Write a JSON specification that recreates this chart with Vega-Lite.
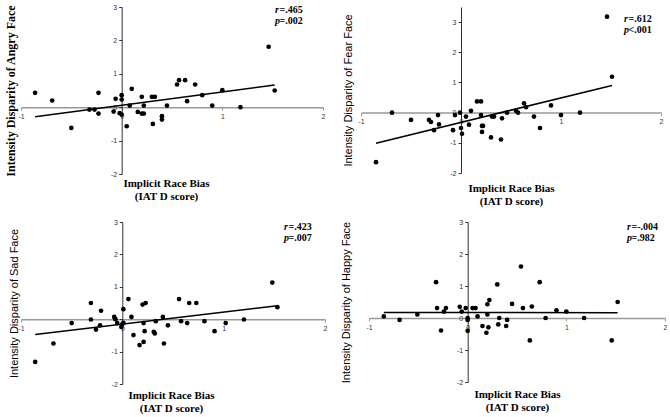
{
  "$schema": "https://vega.github.io/schema/vega-lite/v6.json",
  "background": "white",
  "padding": {"left": 4, "top": 3, "right": 0, "bottom": 0},
  "spacing": 11,
  "config": {
    "view": {"stroke": null},
    "axis": {"grid": false, "labelFont": "Liberation Sans", "labelFontSize": 7, "labelColor": "#333", "labelOverlap": false, "labelFlush": false, "tickSize": 3, "labelPadding": 2},
    "text": {"font": "Liberation Serif", "fontSize": 10, "fontWeight": "bold", "color": "black", "align": "left", "baseline": "top", "lineHeight": 11}
  },
  "datasets": {
    "angry": [
      {"x": -0.86, "y": 0.43}, {"x": -0.69, "y": 0.2}, {"x": -0.5, "y": -0.62}, {"x": -0.32, "y": -0.07}, {"x": -0.27, "y": -0.07},
      {"x": -0.23, "y": 0.43}, {"x": -0.23, "y": -0.19}, {"x": -0.08, "y": -0.13}, {"x": -0.06, "y": 0.25}, {"x": -0.02, "y": -0.18},
      {"x": 0.0, "y": 0.36}, {"x": 0.0, "y": 0.23}, {"x": 0.0, "y": -0.22}, {"x": 0.05, "y": -0.57}, {"x": 0.08, "y": 0.05},
      {"x": 0.1, "y": 0.55}, {"x": 0.16, "y": -0.14}, {"x": 0.2, "y": 0.31}, {"x": 0.2, "y": -0.19}, {"x": 0.22, "y": -0.19},
      {"x": 0.22, "y": 0.05}, {"x": 0.3, "y": 0.31}, {"x": 0.33, "y": 0.31}, {"x": 0.31, "y": -0.5}, {"x": 0.4, "y": -0.27},
      {"x": 0.4, "y": -0.37}, {"x": 0.45, "y": 0.05}, {"x": 0.55, "y": 0.68}, {"x": 0.57, "y": 0.81}, {"x": 0.63, "y": 0.81},
      {"x": 0.65, "y": 0.18}, {"x": 0.73, "y": 0.68}, {"x": 0.8, "y": 0.36}, {"x": 0.9, "y": 0.05}, {"x": 1.0, "y": 0.51},
      {"x": 1.18, "y": 0.0}, {"x": 1.46, "y": 1.81}, {"x": 1.52, "y": 0.5}
    ],
    "fear": [
      {"x": -0.85, "y": -1.64}, {"x": -0.69, "y": 0.0}, {"x": -0.5, "y": -0.24}, {"x": -0.32, "y": -0.24}, {"x": -0.3, "y": -0.31},
      {"x": -0.27, "y": -0.58}, {"x": -0.23, "y": -0.08}, {"x": -0.22, "y": -0.39}, {"x": -0.08, "y": -0.58}, {"x": -0.06, "y": -0.08},
      {"x": -0.01, "y": 0.0}, {"x": 0.0, "y": -0.51}, {"x": 0.01, "y": -0.7}, {"x": 0.05, "y": -0.13}, {"x": 0.08, "y": -0.4},
      {"x": 0.1, "y": 0.06}, {"x": 0.16, "y": 0.37}, {"x": 0.2, "y": 0.37}, {"x": 0.2, "y": -0.08}, {"x": 0.21, "y": -0.44},
      {"x": 0.22, "y": -0.44}, {"x": 0.21, "y": -0.64}, {"x": 0.3, "y": -0.82}, {"x": 0.31, "y": -0.13}, {"x": 0.33, "y": -0.13},
      {"x": 0.4, "y": -0.89}, {"x": 0.41, "y": -0.19}, {"x": 0.46, "y": 0.0}, {"x": 0.55, "y": 0.06}, {"x": 0.57, "y": 0.0},
      {"x": 0.63, "y": 0.31}, {"x": 0.65, "y": 0.18}, {"x": 0.73, "y": -0.13}, {"x": 0.79, "y": -0.51}, {"x": 0.9, "y": 0.24},
      {"x": 1.0, "y": -0.08}, {"x": 1.19, "y": 0.0}, {"x": 1.46, "y": 3.18}, {"x": 1.51, "y": 1.19}
    ],
    "sad": [
      {"x": -0.86, "y": -1.32}, {"x": -0.68, "y": -0.75}, {"x": -0.5, "y": -0.12}, {"x": -0.31, "y": 0.5}, {"x": -0.31, "y": -0.01},
      {"x": -0.26, "y": -0.32}, {"x": -0.22, "y": -0.19}, {"x": -0.21, "y": 0.26}, {"x": -0.08, "y": 0.07}, {"x": -0.07, "y": 0.0},
      {"x": -0.05, "y": -0.12}, {"x": -0.01, "y": -0.24}, {"x": 0.0, "y": -0.15}, {"x": 0.01, "y": -0.11}, {"x": 0.01, "y": 0.31},
      {"x": 0.06, "y": 0.62}, {"x": 0.09, "y": 0.07}, {"x": 0.11, "y": -0.49}, {"x": 0.17, "y": -0.8}, {"x": 0.2, "y": 0.45},
      {"x": 0.21, "y": -0.12}, {"x": 0.21, "y": -0.7}, {"x": 0.22, "y": -0.37}, {"x": 0.23, "y": 0.5}, {"x": 0.31, "y": -0.39},
      {"x": 0.32, "y": -0.44}, {"x": 0.33, "y": -0.06}, {"x": 0.4, "y": 0.07}, {"x": 0.41, "y": -0.75}, {"x": 0.45, "y": -0.19},
      {"x": 0.56, "y": 0.62}, {"x": 0.58, "y": -0.06}, {"x": 0.64, "y": -0.12}, {"x": 0.66, "y": 0.5}, {"x": 0.73, "y": 0.5},
      {"x": 0.81, "y": -0.06}, {"x": 0.91, "y": -0.37}, {"x": 1.02, "y": -0.12}, {"x": 1.2, "y": -0.01}, {"x": 1.48, "y": 1.13},
      {"x": 1.53, "y": 0.37}
    ],
    "happy": [
      {"x": -0.85, "y": 0.05}, {"x": -0.69, "y": -0.06}, {"x": -0.51, "y": 0.11}, {"x": -0.32, "y": 1.12}, {"x": -0.31, "y": 0.31},
      {"x": -0.27, "y": -0.39}, {"x": -0.24, "y": 0.2}, {"x": -0.22, "y": 0.31}, {"x": -0.08, "y": 0.35}, {"x": -0.06, "y": 0.2},
      {"x": -0.02, "y": 0.31}, {"x": 0.0, "y": 0.0}, {"x": 0.0, "y": -0.06}, {"x": 0.0, "y": -0.4}, {"x": 0.05, "y": 0.31},
      {"x": 0.08, "y": 0.31}, {"x": 0.1, "y": 0.05}, {"x": 0.15, "y": -0.25}, {"x": 0.19, "y": -0.46}, {"x": 0.2, "y": 0.43},
      {"x": 0.2, "y": 0.11}, {"x": 0.21, "y": -0.29}, {"x": 0.22, "y": 0.56}, {"x": 0.3, "y": 1.05}, {"x": 0.31, "y": -0.2},
      {"x": 0.32, "y": 0.0}, {"x": 0.39, "y": -0.25}, {"x": 0.4, "y": -0.06}, {"x": 0.45, "y": 0.44}, {"x": 0.54, "y": 1.61},
      {"x": 0.56, "y": 0.31}, {"x": 0.63, "y": -0.7}, {"x": 0.65, "y": 0.36}, {"x": 0.73, "y": 1.12}, {"x": 0.79, "y": 0.0},
      {"x": 0.9, "y": 0.24}, {"x": 1.0, "y": 0.2}, {"x": 1.18, "y": 0.0}, {"x": 1.46, "y": -0.7}, {"x": 1.52, "y": 0.5}
    ]
  },
  "vconcat": [
    {
      "spacing": 38,
      "bounds": "flush",
      "hconcat": [
        {
          "width": 302, "height": 167,
          "resolve": {"axis": {"x": "independent", "y": "independent"}},
          "layer": [
            {"data": {"name": "angry"}, "mark": {"type": "point", "filled": true, "color": "black", "size": 22, "opacity": 1},
              "encoding": {
                "x": {"field": "x", "type": "quantitative", "scale": {"domain": [-1, 2], "nice": false, "zero": false},
                  "axis": {"orient": "bottom", "offset": -66.8, "values": [-1, 0, 1, 2], "labelExpr": "datum.value + ''", "labelOverlap": false, "domainColor": "#999", "domainWidth": 1.5, "tickColor": "#999",
                    "title": ["Implicit Race Bias", "(IAT D score)"], "titleFont": "Liberation Serif", "titleFontWeight": "bold", "titleFontSize": 11,
                    "titleX": 145, "titleY": 70, "titleBaseline": "top", "titleAlign": "center", "titleLineHeight": 13, "titleColor": "black"}},
                "y": {"field": "y", "type": "quantitative", "scale": {"domain": [-2, 3], "nice": false, "zero": false},
                  "axis": {"offset": -100.7, "values": [-2, -1, 0, 1, 2, 3], "labelExpr": "datum.value + ''", "labelOverlap": false, "domainColor": "#333", "tickColor": "#333",
                    "title": "Intensity Disparity of Angry Face", "titleFont": "Liberation Serif", "titleFontWeight": "bold", "titleFontSize": 12,
                    "titleX": -111, "titleY": 83.5, "titleAngle": -90, "titleAlign": "center", "titleBaseline": "middle", "titleColor": "black"}}
              }},
            {"data": {"name": "angry"}, "transform": [{"regression": "y", "on": "x"}], "mark": {"type": "line", "color": "black", "strokeWidth": 1.5},
              "encoding": {"x": {"field": "x", "type": "quantitative", "axis": null}, "y": {"field": "y", "type": "quantitative", "axis": null}}},
            {"data": {"values": [{}]}, "mark": {"type": "text", "text": ["r", "p"], "fontStyle": "italic", "dx": -48, "dy": -2}, "encoding": {"x": {"datum": 2, "axis": null}, "y": {"datum": 3, "axis": null}}},
            {"data": {"values": [{}]}, "mark": {"type": "text", "text": ["=.465", "=.002"], "dx": -43.5, "dy": -2}, "encoding": {"x": {"datum": 2, "axis": null}, "y": {"datum": 3, "axis": null}}}
          ]
        },
        {
          "width": 300, "height": 166,
          "resolve": {"axis": {"x": "independent", "y": "independent"}},
          "layer": [
            {"data": {"name": "fear"}, "mark": {"type": "point", "filled": true, "color": "black", "size": 22, "opacity": 1},
              "encoding": {
                "x": {"field": "x", "type": "quantitative", "scale": {"domain": [-1, 2], "nice": false, "zero": false},
                  "axis": {"orient": "bottom", "offset": -60.4, "values": [-1, 0, 1, 2], "labelExpr": "datum.value + ''", "labelOverlap": false, "domainColor": "#999", "domainWidth": 1.5, "tickColor": "#999",
                    "title": ["Implicit Race Bias", "(IAT D score)"], "titleFont": "Liberation Serif", "titleFontWeight": "bold", "titleFontSize": 11,
                    "titleX": 150, "titleY": 70, "titleBaseline": "top", "titleAlign": "center", "titleLineHeight": 13, "titleColor": "black"}},
                "y": {"field": "y", "type": "quantitative", "scale": {"domain": [-2, 3.5], "nice": false, "zero": false},
                  "axis": {"offset": -100, "values": [-2, -1, 0, 1, 2, 3], "labelExpr": "datum.value + ''", "labelOverlap": false, "domainColor": "#333", "tickColor": "#333",
                    "title": "Intensity Disparity of Fear Face", "titleFont": "Liberation Sans", "titleFontWeight": "normal", "titleFontSize": 11,
                    "titleX": -113, "titleY": 83, "titleAngle": -90, "titleAlign": "center", "titleBaseline": "middle", "titleColor": "black"}}
              }},
            {"data": {"name": "fear"}, "transform": [{"regression": "y", "on": "x"}], "mark": {"type": "line", "color": "black", "strokeWidth": 1.5},
              "encoding": {"x": {"field": "x", "type": "quantitative", "axis": null}, "y": {"field": "y", "type": "quantitative", "axis": null}}},
            {"data": {"values": [{}]}, "mark": {"type": "text", "text": ["r", "p"], "fontStyle": "italic", "dx": -37, "dy": 6.5}, "encoding": {"x": {"datum": 2, "axis": null}, "y": {"datum": 3.5, "axis": null}}},
            {"data": {"values": [{}]}, "mark": {"type": "text", "text": ["=.612", "<.001"], "dx": -32.5, "dy": 6.5}, "encoding": {"x": {"datum": 2, "axis": null}, "y": {"datum": 3.5, "axis": null}}}
          ]
        }
      ]
    },
    {
      "spacing": 44,
      "bounds": "flush",
      "hconcat": [
        {
          "width": 304, "height": 162,
          "resolve": {"axis": {"x": "independent", "y": "independent"}},
          "layer": [
            {"data": {"name": "sad"}, "mark": {"type": "point", "filled": true, "color": "black", "size": 22, "opacity": 1},
              "encoding": {
                "x": {"field": "x", "type": "quantitative", "scale": {"domain": [-1, 2], "nice": false, "zero": false},
                  "axis": {"orient": "bottom", "offset": -64.8, "values": [-1, 0, 1, 2], "labelExpr": "datum.value + ''", "labelOverlap": false, "domainColor": "#999", "domainWidth": 1.5, "tickColor": "#999",
                    "title": ["Implicit Race Bias", "(IAT D score)"], "titleFont": "Liberation Serif", "titleFontWeight": "bold", "titleFontSize": 11,
                    "titleX": 150, "titleY": 70, "titleBaseline": "top", "titleAlign": "center", "titleLineHeight": 13, "titleColor": "black"}},
                "y": {"field": "y", "type": "quantitative", "scale": {"domain": [-2, 3], "nice": false, "zero": false},
                  "axis": {"offset": -101.3, "values": [-2, -1, 0, 1, 2, 3], "labelExpr": "datum.value + ''", "labelOverlap": false, "domainColor": "#333", "tickColor": "#333",
                    "title": "Intensity Disparity of Sad Face", "titleFont": "Liberation Sans", "titleFontWeight": "normal", "titleFontSize": 11,
                    "titleX": -108, "titleY": 81, "titleAngle": -90, "titleAlign": "center", "titleBaseline": "middle", "titleColor": "black"}}
              }},
            {"data": {"name": "sad"}, "transform": [{"regression": "y", "on": "x"}], "mark": {"type": "line", "color": "black", "strokeWidth": 1.5},
              "encoding": {"x": {"field": "x", "type": "quantitative", "axis": null}, "y": {"field": "y", "type": "quantitative", "axis": null}}},
            {"data": {"values": [{}]}, "mark": {"type": "text", "text": ["r", "p"], "fontStyle": "italic", "dx": -41, "dy": 0}, "encoding": {"x": {"datum": 2, "axis": null}, "y": {"datum": 3, "axis": null}}},
            {"data": {"values": [{}]}, "mark": {"type": "text", "text": ["=.423", "=.007"], "dx": -36.5, "dy": 0}, "encoding": {"x": {"datum": 2, "axis": null}, "y": {"datum": 3, "axis": null}}}
          ]
        },
        {
          "width": 296, "height": 160,
          "resolve": {"axis": {"x": "independent", "y": "independent"}},
          "layer": [
            {"data": {"name": "happy"}, "mark": {"type": "point", "filled": true, "color": "black", "size": 22, "opacity": 1},
              "encoding": {
                "x": {"field": "x", "type": "quantitative", "scale": {"domain": [-1, 2], "nice": false, "zero": false},
                  "axis": {"orient": "bottom", "offset": -64, "values": [-1, 0, 1, 2], "labelExpr": "datum.value + ''", "labelOverlap": false, "domainColor": "#999", "domainWidth": 1.5, "tickColor": "#999",
                    "title": ["Implicit Race Bias", "(IAT D score)"], "titleFont": "Liberation Serif", "titleFontWeight": "bold", "titleFontSize": 11,
                    "titleX": 148, "titleY": 70, "titleBaseline": "top", "titleAlign": "center", "titleLineHeight": 13, "titleColor": "black"}},
                "y": {"field": "y", "type": "quantitative", "scale": {"domain": [-2, 3], "nice": false, "zero": false},
                  "axis": {"offset": -98.7, "values": [-2, -1, 0, 1, 2, 3], "labelExpr": "datum.value + ''", "labelOverlap": false, "domainColor": "#333", "tickColor": "#333",
                    "title": "Intensity Disparity of Happy Face", "titleFont": "Liberation Sans", "titleFontWeight": "normal", "titleFontSize": 11,
                    "titleX": -121, "titleY": 80, "titleAngle": -90, "titleAlign": "center", "titleBaseline": "middle", "titleColor": "black"}}
              }},
            {"data": {"name": "happy"}, "transform": [{"regression": "y", "on": "x"}], "mark": {"type": "line", "color": "black", "strokeWidth": 1.5},
              "encoding": {"x": {"field": "x", "type": "quantitative", "axis": null}, "y": {"field": "y", "type": "quantitative", "axis": null}}},
            {"data": {"values": [{}]}, "mark": {"type": "text", "text": ["r", "p"], "fontStyle": "italic", "dx": -38, "dy": -0.5}, "encoding": {"x": {"datum": 2, "axis": null}, "y": {"datum": 3, "axis": null}}},
            {"data": {"values": [{}]}, "mark": {"type": "text", "text": ["=-.004", "=.982"], "dx": -33.5, "dy": -0.5}, "encoding": {"x": {"datum": 2, "axis": null}, "y": {"datum": 3, "axis": null}}}
          ]
        }
      ]
    }
  ]
}
